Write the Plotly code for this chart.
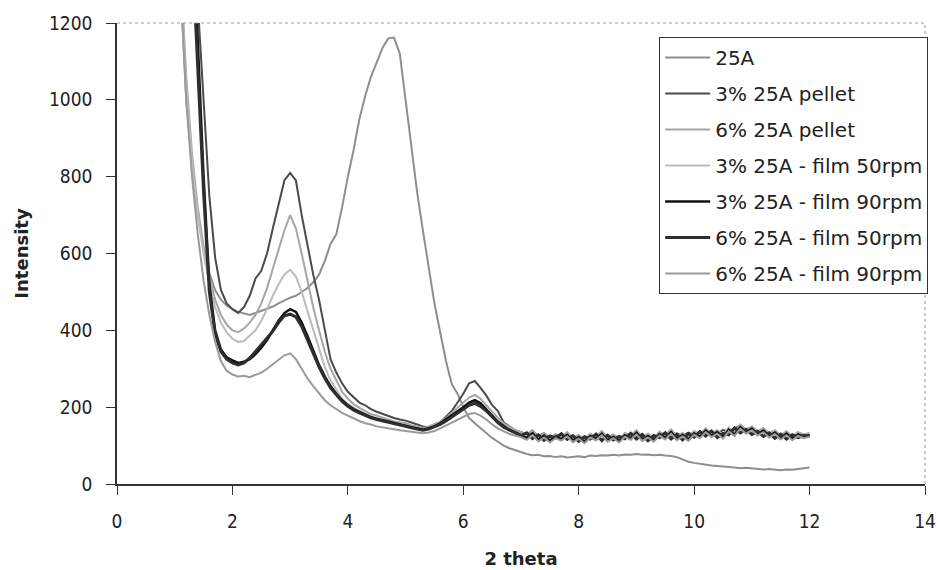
import plotly.graph_objects as go

# 2-theta sampling grid (1.0 .. 12.0, step 0.1)
two_theta = [round(1.0 + 0.1 * i, 1) for i in range(111)]

s_25A = [1600, 1300, 1000, 830, 700, 610, 550, 505, 480, 465,
         455, 448, 445, 440, 445, 450, 455, 462, 470, 478,
         485, 490, 500, 510, 525, 545, 580, 625, 650, 720,
         800, 870, 950, 1010, 1060, 1100, 1135, 1160, 1162, 1120,
         1000, 880, 760, 660, 570, 470, 395, 320, 260, 235,
         200, 172, 158, 145, 132, 120, 110, 100, 93, 88,
         82, 78, 75, 76, 72, 73, 70, 72, 69, 71,
         72, 70, 74, 73, 75, 74, 76, 74, 77, 76,
         78, 76, 77, 75, 76, 74, 73, 70, 64, 58,
         55, 52, 50, 48, 47, 45, 44, 43, 41, 42,
         40, 39, 38, 39, 37, 36, 38, 37, 39, 41, 43]

s_3p_pellet = [3000, 2500, 2000, 1600, 1250, 1000, 750, 590, 505, 470,
               455, 445, 460, 490, 535, 555, 600, 665, 730, 790,
               810, 790, 700, 620, 545, 480, 400, 325, 290, 262,
               240, 225, 212, 205, 195, 188, 182, 176, 172, 168,
               165, 160, 156, 150, 148, 152, 160, 175, 190, 212,
               235, 262, 268, 250, 230, 205, 190, 160, 150, 140,
               135, 130, 138, 125, 132, 120, 128, 118, 126, 115,
               125, 118, 122, 115, 126, 119, 128, 117, 124, 130,
               122, 131, 118, 127, 120, 129, 123, 132, 125, 134,
               127, 136, 128, 138, 130, 141, 135, 145, 152, 140,
               148, 135, 142, 131, 138, 126, 134, 122, 130, 125, 128]

s_6p_pellet = [1700, 1350, 1060, 860, 720, 620, 540, 480, 440, 415,
               400, 395, 405, 420, 440, 470, 510, 560, 610, 660,
               700, 665, 600, 530, 460, 400, 345, 300, 268, 240,
               222, 208, 198, 190, 182, 178, 172, 168, 163, 160,
               158, 153, 150, 146, 150, 155, 162, 172, 185, 198,
               210, 225, 232, 222, 205, 188, 172, 158, 148, 140,
               136, 128, 140, 124, 133, 118, 130, 122, 135, 120,
               128, 116, 131, 124, 138, 121, 129, 117, 133, 126,
               140, 123, 131, 119, 136, 127, 142, 125, 133, 121,
               138, 129, 145, 132, 140, 128, 147, 136, 155, 141,
               150, 137, 146, 131, 140, 126, 138, 124, 135, 129, 133]

s_3p_film50 = [1650, 1320, 1040, 840, 700, 600, 520, 460, 420, 395,
               378, 370, 372, 385, 400, 425, 455, 490, 520, 545,
               558, 540, 500, 450, 400, 350, 305, 270, 245, 222,
               208, 198, 190, 183, 176, 171, 166, 162, 158, 155,
               152, 148, 145, 142, 146, 150, 157, 165, 176, 188,
               198, 208, 214, 205, 192, 178, 163, 152, 143, 136,
               130, 122, 134, 117, 127, 113, 125, 119, 130, 115,
               124, 112, 127, 120, 133, 116, 125, 114, 129, 121,
               135, 118, 127, 116, 132, 122, 137, 120, 130, 118,
               134, 125, 141, 128, 137, 124, 143, 131, 150, 137,
               146, 132, 141, 127, 136, 122, 133, 120, 131, 125, 129]

s_3p_film90 = [3000, 2400, 1900, 1500, 1150, 800, 520, 400, 350, 330,
               322, 315, 318, 325, 338, 355, 375, 400, 425, 445,
               455, 448, 420, 385, 345, 310, 280, 255, 235, 218,
               205, 195, 188, 180, 174, 170, 166, 162, 158, 155,
               152, 148, 145, 142, 145, 150, 158, 168, 178, 190,
               200, 212, 218, 210, 195, 178, 162, 150, 140, 134,
               128, 120, 132, 115, 126, 112, 124, 117, 128, 113,
               122, 110, 125, 118, 131, 114, 123, 112, 127, 119,
               133, 116, 125, 114, 130, 120, 135, 118, 128, 116,
               132, 123, 139, 126, 135, 122, 141, 129, 148, 135,
               144, 130, 139, 125, 134, 120, 131, 118, 129, 123, 127]

s_6p_film50 = [2900, 2300, 1800, 1400, 1080, 760, 500, 390, 345, 325,
               315, 310, 315, 328, 345, 362, 380, 398, 420, 438,
               442, 435, 410, 375, 340, 305, 275, 250, 232, 215,
               202, 192, 185, 178, 172, 168, 164, 160, 156, 153,
               150, 146, 143, 140, 143, 148, 155, 164, 174, 185,
               195, 205, 210, 202, 190, 175, 160, 148, 140, 133,
               126, 133, 118, 128, 114, 125, 120, 131, 116, 126,
               111, 123, 117, 130, 113, 127, 115, 124, 118, 132,
               117, 128, 113, 126, 121, 133, 117, 129, 115, 131,
               122, 136, 125, 138, 121, 132, 128, 146, 133, 142,
               129, 137, 124, 133, 119, 130, 117, 128, 121, 126, 124]

s_6p_film90 = [1600, 1280, 1000, 800, 650, 530, 440, 370, 320, 295,
               285, 280, 282, 278, 285, 290, 300, 312, 322, 335,
               340, 325, 300, 275, 255, 235, 218, 205, 195, 185,
               178, 170, 164, 158, 155, 150, 147, 145, 142, 140,
               138, 136, 134, 132, 134, 138, 145, 152, 160, 168,
               175, 182, 185, 178, 168, 155, 145, 137, 130, 126,
               122, 115, 127, 111, 121, 108, 119, 113, 124, 109,
               118, 106, 121, 114, 127, 110, 119, 108, 123, 115,
               129, 112, 121, 110, 126, 116, 131, 114, 124, 112,
               128, 119, 135, 122, 131, 118, 137, 125, 144, 131,
               140, 126, 135, 121, 130, 116, 127, 114, 125, 119, 123]

series_names = ["25A", "3% 25A pellet", "6% 25A pellet", "3% 25A - film 50rpm",
                "3% 25A - film 90rpm", "6% 25A - film 50rpm", "6% 25A - film 90rpm"]
series_values = [s_25A, s_3p_pellet, s_6p_pellet, s_3p_film50,
                 s_3p_film90, s_6p_film50, s_6p_film90]
series_colors = ["#8e8e8e", "#4a4a4a", "#a6a6a6", "#bcbcbc", "#111111", "#2e2e2e", "#9a9a9a"]
series_widths = [2, 2, 2, 2, 2.5, 3, 2]

fig = go.Figure()
for name, vals, col, w in zip(series_names, series_values, series_colors, series_widths):
    fig.add_trace(go.Scatter(x=two_theta, y=vals, mode="lines", name=name,
                             legendgroup=name,
                             line=dict(color=col, width=w)))

tick_font = dict(family="DejaVu Sans Condensed, DejaVu Sans, sans-serif", size=19, color="#222")
title_font = dict(family="DejaVu Sans, sans-serif", size=18, color="#222")

fig.update_layout(
    width=938, height=570,
    margin=dict(l=117, r=13, t=23, b=86, autoexpand=False),
    paper_bgcolor="white", plot_bgcolor="white",
    showlegend=True,
    legend=dict(x=0.671, y=0.9696, xanchor="left", yanchor="top",
                bgcolor="white", bordercolor="#333", borderwidth=1,
                font=dict(family="DejaVu Sans, sans-serif", size=20, color="#222"),
                tracegroupgap=7, itemwidth=45),
    xaxis=dict(range=[0, 14], dtick=2, tick0=0, showgrid=False, zeroline=False,
               showline=True, linecolor="#333", linewidth=1.5, automargin=False,
               ticks="outside", ticklen=9, tickcolor="#333", tickfont=tick_font,
               ticklabelstandoff=10,
               title=dict(text="<b>2 theta</b>", standoff=22, font=title_font)),
    yaxis=dict(range=[0, 1200], dtick=200, tick0=0, showgrid=False, zeroline=False,
               showline=True, linecolor="#333", linewidth=1.5, automargin=False,
               ticks="outside", ticklen=9, tickcolor="#333", tickfont=tick_font,
               ticklabelstandoff=10,
               title=dict(text="<b>Intensity</b>", standoff=16, font=title_font)),
    shapes=[
        dict(type="line", xref="paper", yref="paper", x0=0, x1=1, y0=1, y1=1,
             line=dict(color="#999", width=1, dash="dot")),
        dict(type="line", xref="paper", yref="paper", x0=1, x1=1, y0=0, y1=1,
             line=dict(color="#999", width=1, dash="dot")),
    ],
)

fig.write_html("out.html")
